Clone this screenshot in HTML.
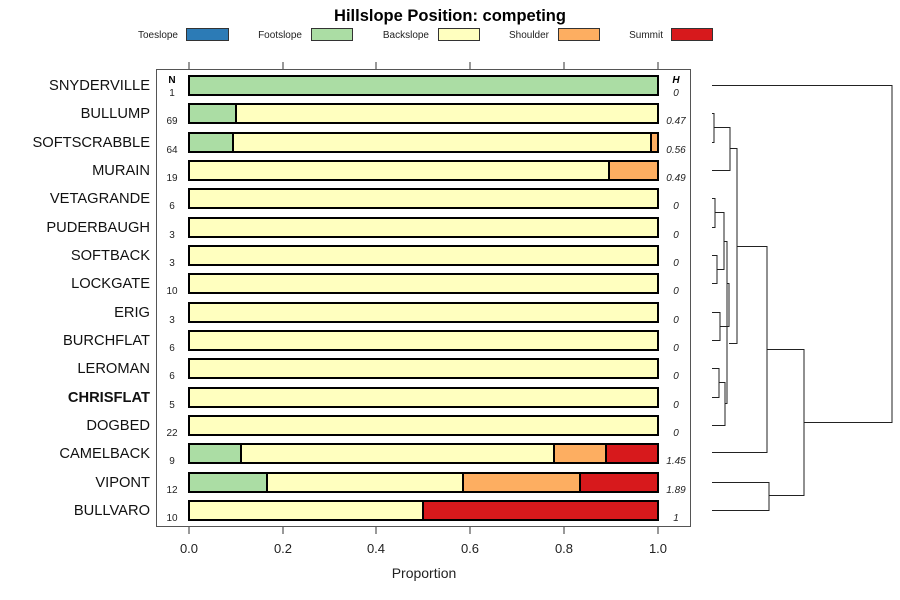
<!DOCTYPE html>
<html><head><meta charset="utf-8"><style>
html,body{margin:0;padding:0;background:#fff;}
svg{display:block;font-family:"Liberation Sans",sans-serif;}
</style></head><body>
<svg width="900" height="600" viewBox="0 0 900 600" xmlns="http://www.w3.org/2000/svg">
<rect width="900" height="600" fill="#fff"/>
<text x="450" y="21" text-anchor="middle" font-size="16.5" font-weight="bold">Hillslope Position: competing</text>
<g font-size="10" fill="#222">
<text x="178" y="38" text-anchor="end">Toeslope</text>
<rect x="186.5" y="28.5" width="42" height="12" fill="#2C7BB6" stroke="#333"/>
<text x="302" y="38" text-anchor="end">Footslope</text>
<rect x="311.5" y="28.5" width="41" height="12" fill="#ABDDA4" stroke="#333"/>
<text x="429" y="38" text-anchor="end">Backslope</text>
<rect x="438.5" y="28.5" width="41" height="12" fill="#FFFFBF" stroke="#333"/>
<text x="549" y="38" text-anchor="end">Shoulder</text>
<rect x="558.5" y="28.5" width="41" height="12" fill="#FDAE61" stroke="#333"/>
<text x="663" y="38" text-anchor="end">Summit</text>
<rect x="671.5" y="28.5" width="41" height="12" fill="#D7191C" stroke="#333"/>
</g>
<rect x="156.5" y="69.5" width="534" height="457" fill="none" stroke="#555"/>
<g stroke="#333">
<line x1="189" y1="62" x2="189" y2="69"/><line x1="283" y1="62" x2="283" y2="69"/><line x1="376" y1="62" x2="376" y2="69"/><line x1="470" y1="62" x2="470" y2="69"/><line x1="564" y1="62" x2="564" y2="69"/><line x1="658" y1="62" x2="658" y2="69"/>
<line x1="189" y1="527" x2="189" y2="534"/><line x1="283" y1="527" x2="283" y2="534"/><line x1="376" y1="527" x2="376" y2="534"/><line x1="470" y1="527" x2="470" y2="534"/><line x1="564" y1="527" x2="564" y2="534"/><line x1="658" y1="527" x2="658" y2="534"/>
</g>
<g font-size="13" text-anchor="middle" fill="#222">
<text x="189" y="553">0.0</text><text x="283" y="553">0.2</text><text x="376" y="553">0.4</text><text x="470" y="553">0.6</text><text x="564" y="553">0.8</text><text x="658" y="553">1.0</text>
<text x="424" y="578" font-size="14">Proportion</text>
</g>
<text x="172" y="83" text-anchor="middle" font-size="10" font-weight="bold">N</text>
<text x="676" y="83" text-anchor="middle" font-size="10" font-weight="bold" font-style="italic">H</text>
<g stroke="#000" stroke-width="2">
<rect x="189" y="76" width="469" height="19" fill="#ABDDA4"/>
<rect x="189" y="104" width="47" height="19" fill="#ABDDA4"/><rect x="236" y="104" width="422" height="19" fill="#FFFFBF"/>
<rect x="189" y="133" width="44" height="19" fill="#ABDDA4"/><rect x="233" y="133" width="418" height="19" fill="#FFFFBF"/><rect x="651" y="133" width="7" height="19" fill="#FDAE61"/>
<rect x="189" y="161" width="420" height="19" fill="#FFFFBF"/><rect x="609" y="161" width="49" height="19" fill="#FDAE61"/>
<rect x="189" y="189" width="469" height="19" fill="#FFFFBF"/>
<rect x="189" y="218" width="469" height="19" fill="#FFFFBF"/>
<rect x="189" y="246" width="469" height="19" fill="#FFFFBF"/>
<rect x="189" y="274" width="469" height="19" fill="#FFFFBF"/>
<rect x="189" y="303" width="469" height="19" fill="#FFFFBF"/>
<rect x="189" y="331" width="469" height="19" fill="#FFFFBF"/>
<rect x="189" y="359" width="469" height="19" fill="#FFFFBF"/>
<rect x="189" y="388" width="469" height="19" fill="#FFFFBF"/>
<rect x="189" y="416" width="469" height="19" fill="#FFFFBF"/>
<rect x="189" y="444" width="52" height="19" fill="#ABDDA4"/><rect x="241" y="444" width="313" height="19" fill="#FFFFBF"/><rect x="554" y="444" width="52" height="19" fill="#FDAE61"/><rect x="606" y="444" width="52" height="19" fill="#D7191C"/>
<rect x="189" y="473" width="78" height="19" fill="#ABDDA4"/><rect x="267" y="473" width="196" height="19" fill="#FFFFBF"/><rect x="463" y="473" width="117" height="19" fill="#FDAE61"/><rect x="580" y="473" width="78" height="19" fill="#D7191C"/>
<rect x="189" y="501" width="234" height="19" fill="#FFFFBF"/><rect x="423" y="501" width="235" height="19" fill="#D7191C"/>
</g>
<g font-size="14.7" text-anchor="end" fill="#111">
<text x="150" y="90">SNYDERVILLE</text><text x="150" y="118">BULLUMP</text><text x="150" y="147">SOFTSCRABBLE</text><text x="150" y="175">MURAIN</text><text x="150" y="203">VETAGRANDE</text><text x="150" y="232">PUDERBAUGH</text><text x="150" y="260">SOFTBACK</text><text x="150" y="288">LOCKGATE</text><text x="150" y="317">ERIG</text><text x="150" y="345">BURCHFLAT</text><text x="150" y="373">LEROMAN</text><text x="150" y="402" font-weight="bold">CHRISFLAT</text><text x="150" y="430">DOGBED</text><text x="150" y="458">CAMELBACK</text><text x="150" y="487">VIPONT</text><text x="150" y="515">BULLVARO</text>
</g>
<g font-size="10" text-anchor="middle" fill="#222">
<text x="172" y="96">1</text><text x="172" y="124">69</text><text x="172" y="153">64</text><text x="172" y="181">19</text><text x="172" y="209">6</text><text x="172" y="238">3</text><text x="172" y="266">3</text><text x="172" y="294">10</text><text x="172" y="323">3</text><text x="172" y="351">6</text><text x="172" y="379">6</text><text x="172" y="408">5</text><text x="172" y="436">22</text><text x="172" y="464">9</text><text x="172" y="493">12</text><text x="172" y="521">10</text>
</g>
<g font-size="10" text-anchor="middle" font-style="italic" fill="#222">
<text x="676" y="96">0</text><text x="676" y="124">0.47</text><text x="676" y="153">0.56</text><text x="676" y="181">0.49</text><text x="676" y="209">0</text><text x="676" y="238">0</text><text x="676" y="266">0</text><text x="676" y="294">0</text><text x="676" y="323">0</text><text x="676" y="351">0</text><text x="676" y="379">0</text><text x="676" y="408">0</text><text x="676" y="436">0</text><text x="676" y="464">1.45</text><text x="676" y="493">1.89</text><text x="676" y="521">1</text>
</g>
<g fill="none" stroke="#222" stroke-width="1">
<polyline points="712,85.5 892,85.5 892,422.5 804,422.5"/>
<polyline points="712,113.5 714,113.5 714,142.5 712,142.5"/>
<polyline points="714,127.5 730,127.5 730,170.5 712,170.5"/>
<polyline points="730,148.5 737,148.5 737,343.5 729,343.5"/>
<polyline points="737,246.5 767,246.5 767,452.5 712,452.5"/>
<polyline points="767,349.5 804,349.5 804,495.5 769,495.5"/>
<polyline points="712,482.5 769,482.5 769,510.5 712,510.5"/>
<polyline points="712,198.5 715,198.5 715,227.5 712,227.5"/>
<polyline points="715,212.5 724,212.5 724,269.5 717,269.5"/>
<polyline points="712,255.5 717,255.5 717,283.5 712,283.5"/>
<polyline points="724,241.5 727,241.5 727,403.5 725,403.5"/>
<polyline points="712,312.5 720,312.5 720,340.5 712,340.5"/>
<polyline points="720,326.5 729,326.5 729,283.5 727,283.5"/>
<polyline points="712,368.5 719,368.5 719,397.5 712,397.5"/>
<polyline points="719,382.5 725,382.5 725,425.5 712,425.5"/>
</g>
</svg>
</body></html>
